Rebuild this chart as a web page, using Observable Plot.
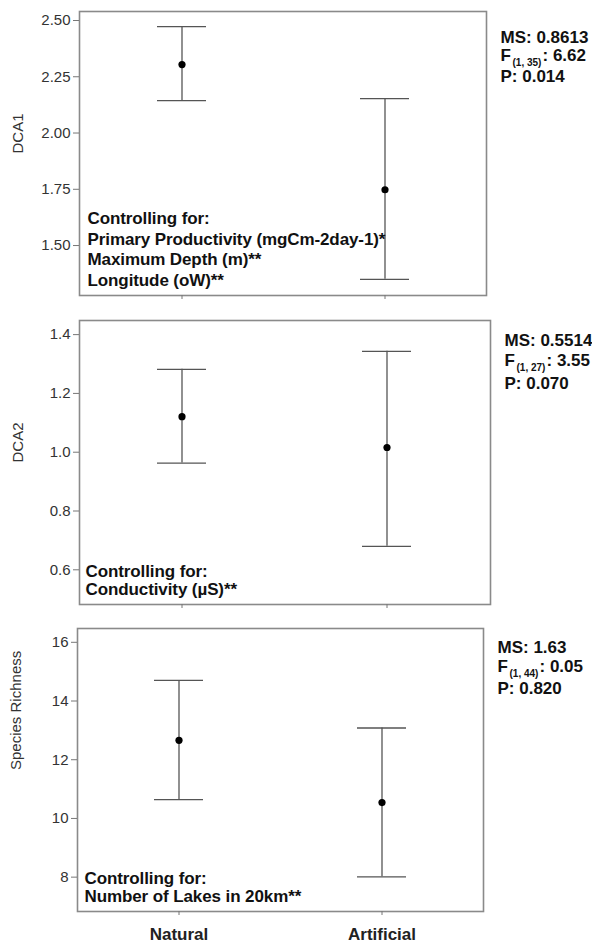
<!DOCTYPE html>
<html>
<head>
<meta charset="utf-8">
<script src="https://cdn.jsdelivr.net/npm/d3@7"></script>
<script src="https://cdn.jsdelivr.net/npm/@observablehq/plot@0.6"></script>
<style>
  body { margin: 0; background: #fff; }
  #chart svg { display: block; }
  .ctrl text { letter-spacing: -0.1px; }
</style>
</head>
<body>
<div id="chart"></div>
<script>
// ---- data ----
const categories = ["Natural", "Artificial"];

const dca1Mean = [2.304, 1.748];
const dca1Low  = [2.144, 1.350];
const dca1High = [2.473, 2.153];

const dca2Mean = [1.121, 1.016];
const dca2Low  = [0.963, 0.680];
const dca2High = [1.282, 1.343];

const richMean = [12.66, 10.54];
const richLow  = [10.64, 8.01];
const richHigh = [14.70, 13.08];

const yLabels = ["DCA1", "DCA2", "Species Richness"];
const dca1Ticks = [1.5, 1.75, 2.0, 2.25, 2.5];
const dca2Ticks = [0.6, 0.8, 1.0, 1.2, 1.4];
const richTicks = [8, 10, 12, 14, 16];

const msValues = ["0.8613", "0.5514", "1.63"];
const fDf      = ["(1, 35)", "(1, 27)", "(1, 44)"];
const fValues  = ["6.62", "3.55", "0.05"];
const pValues  = ["0.014", "0.070", "0.820"];

const controls1 = ["Primary Productivity (mgCm-2day-1)*", "Maximum Depth (m)**", "Longitude (oW)**"];
const controls2 = ["Conductivity (µS)**"];
const controls3 = ["Number of Lakes in 20km**"];

const FONT = "'Liberation Sans', Arial, Helvetica, sans-serif";

function rows(mean, lo, hi) {
  return categories.map((c, i) => ({cat: c, mean: mean[i], lo: lo[i], hi: hi[i]}));
}

function panel(cfg) {
  const data = rows(cfg.mean, cfg.lo, cfg.hi);
  const ctrlText = ["Controlling for:", ...cfg.controls].join("\n");
  const annStyle = {frameAnchor: "top-right", textAnchor: "start", lineAnchor: "bottom",
    fontWeight: "bold", fill: "#111"};
  return Plot.plot({
    width: 592,
    height: cfg.height,
    marginTop: cfg.mt,
    marginBottom: cfg.mb,
    marginLeft: cfg.ml,
    marginRight: cfg.mr,
    style: {fontFamily: FONT, background: "#fff", overflow: "visible"},
    x: {type: "band", domain: categories, paddingInner: 0.76, paddingOuter: 0.38, align: 0.5},
    y: {domain: cfg.domain},
    marks: [
      Plot.frame({stroke: "#8a8a8a", strokeWidth: 1.6}),
      Plot.ruleX(data, {x: "cat", y1: "lo", y2: "hi", stroke: "#555", strokeWidth: 1.3}),
      Plot.tickY(data, {x: "cat", y: "lo", stroke: "#555", strokeWidth: 1.3}),
      Plot.tickY(data, {x: "cat", y: "hi", stroke: "#555", strokeWidth: 1.3}),
      Plot.dot(data, {x: "cat", y: "mean", r: 3.6, fill: "#000", stroke: "none"}),
      Plot.axisY({ticks: cfg.ticks, tickFormat: cfg.fmt, tickSize: 6, tickPadding: 3,
        fontSize: 15, fill: "#333", stroke: "#777", label: null}),
      Plot.axisX({tickSize: 4, stroke: "#777", label: null,
        tickPadding: 12, fontSize: 17, fontWeight: "bold", fill: "#222",
        tickFormat: cfg.xLabels ? (d) => d : () => ""}),
      Plot.text([cfg.ylabel], {text: (d) => d, frameAnchor: "left", rotate: -90, dx: -61,
        fontSize: 15, fill: "#333"}),
      Plot.text([ctrlText], {text: (d) => d, frameAnchor: "bottom-left", textAnchor: "start",
        lineAnchor: "bottom", dx: cfg.cdx, dy: -10, fontSize: 17, fontWeight: "bold",
        lineHeight: cfg.lh / 17, fill: "#111", className: "ctrl"}),
      Plot.text(["MS: " + cfg.ms], {...annStyle, text: (d) => d, dx: 14, dy: cfg.ann[0], fontSize: 17}),
      Plot.text(["F"], {...annStyle, text: (d) => d, dx: 14, dy: cfg.ann[1], fontSize: 17}),
      Plot.text([cfg.df], {...annStyle, text: (d) => d, dx: 26, dy: cfg.ann[1] + 5, fontSize: 10}),
      Plot.text([": " + cfg.f], {...annStyle, text: (d) => d, dx: 56, dy: cfg.ann[1], fontSize: 17}),
      Plot.text(["P: " + cfg.p], {...annStyle, text: (d) => d, dx: 14, dy: cfg.ann[2], fontSize: 17})
    ]
  });
}

const chart = document.getElementById("chart");
chart.append(panel({
  mean: dca1Mean, lo: dca1Low, hi: dca1High, domain: [1.278, 2.54], ticks: dca1Ticks, fmt: ".2f",
  ylabel: yLabels[0], controls: controls1, ms: msValues[0], df: fDf[0], f: fValues[0], p: pValues[0],
  height: 308, mt: 11, mb: 13, ml: 79, mr: 106, cdx: 8, lh: 20.5, ann: [31, 49, 70], xLabels: false
}));
chart.append(panel({
  mean: dca2Mean, lo: dca2Low, hi: dca2High, domain: [0.482, 1.448], ticks: dca2Ticks, fmt: ".1f",
  ylabel: yLabels[1], controls: controls2, ms: msValues[1], df: fDf[1], f: fValues[1], p: pValues[1],
  height: 309, mt: 12, mb: 13, ml: 79, mr: 102, cdx: 6, lh: 18, ann: [25, 45, 68], xLabels: false
}));
chart.append(panel({
  mean: richMean, lo: richLow, hi: richHigh, domain: [6.83, 16.47], ticks: richTicks, fmt: "d",
  ylabel: yLabels[2], controls: controls3, ms: msValues[2], df: fDf[2], f: fValues[2], p: pValues[2],
  height: 326, mt: 11, mb: 32, ml: 77, mr: 109, cdx: 7, lh: 18, ann: [24, 43, 65], xLabels: true
}));
</script>
</body>
</html>
